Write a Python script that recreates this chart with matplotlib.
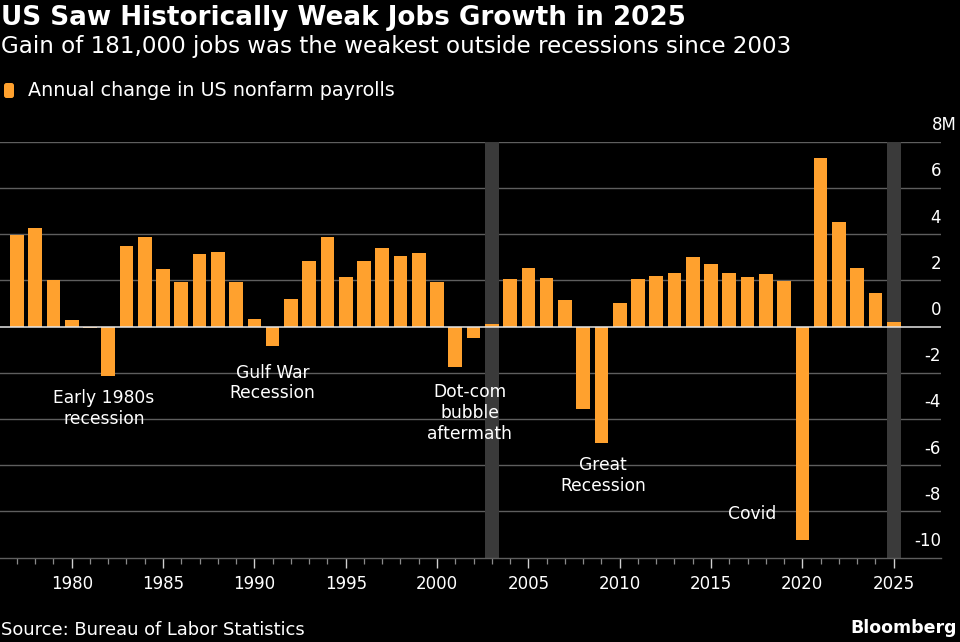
import matplotlib
matplotlib.use("Agg")
import matplotlib.pyplot as plt
from matplotlib.patches import FancyBboxPatch
import numpy as np

plt.rcParams['font.family'] = ['DejaVu Sans']

years = list(range(1977, 2026))
changes = [3.97, 4.27, 2.01, 0.28, -0.05, -2.13, 3.48, 3.88, 2.51, 1.91,
           3.16, 3.23, 1.93, 0.33, -0.84, 1.18, 2.83, 3.87, 2.15, 2.83,
           3.41, 3.06, 3.19, 1.93, -1.73, -0.50, 0.13, 2.05, 2.54, 2.11,
           1.16, -3.56, -5.05, 1.03, 2.06, 2.19, 2.31, 3.00, 2.71, 2.34,
           2.14, 2.29, 1.99, -9.25, 7.29, 4.53, 2.53, 1.46, 0.18]
highlight_years = [2003, 2025]
ytick_values = [8, 6, 4, 2, 0, -2, -4, -6, -8, -10]
ytick_labels = ["8M", "6", "4", "2", "0", "-2", "-4", "-6", "-8", "-10"]
xtick_major = [1980, 1985, 1990, 1995, 2000, 2005, 2010, 2015, 2020, 2025]
annotations = [
    ("Early 1980s\nrecession", 1981.77, -3.56),
    ("Gulf War\nRecession", 1991.0, -2.44),
    ("Dot-com\nbubble\naftermath", 2001.8, -3.74),
    ("Great\nRecession", 2009.08, -6.45),
    ("Covid", 2017.23, -8.11),
]

title = "US Saw Historically Weak Jobs Growth in 2025"
subtitle = "Gain of 181,000 jobs was the weakest outside recessions since 2003"
legend_label = "Annual change in US nonfarm payrolls"
source = "Source: Bureau of Labor Statistics"

BG = "black"
ORANGE = "#ffa12e"
GRID = "#5e5e5e"
BAND = "#3a3a3a"

W, H = 960, 642
fig = plt.figure(figsize=(W / 100, H / 100), dpi=100, facecolor=BG)
ax = fig.add_axes([0 / W, (H - 557.7) / H, 941 / W, (557.7 - 141.7) / H])
ax.set_facecolor(BG)

ax.set_xlim(1976.075, 2027.59)
ax.set_ylim(-10, 8)

for v in ytick_values:
    if v in (0, -10):
        continue
    ax.axhline(v, color=GRID, lw=1.0, zorder=1)

for hy in highlight_years:
    ax.bar(hy, 18, bottom=-10, width=0.75, color=BAND, zorder=2)

ax.bar(years, changes, width=0.75, color=ORANGE, zorder=3)
ax.axhline(0, color="#e6e6e6", lw=1.1, zorder=4)

for name, sp in ax.spines.items():
    sp.set_visible(name == 'bottom')
ax.spines['bottom'].set_color(GRID)
ax.spines['bottom'].set_linewidth(1.0)
ax.spines['bottom'].set_zorder(5)

ax.set_yticks([])
ax.set_xticks(xtick_major)
ax.set_xticks(years, minor=True)
ax.tick_params(axis='x', which='major', length=7.5, width=1.0, color="#d0d0d0",
               labelcolor="white", labelsize=12, pad=5)
ax.tick_params(axis='x', which='minor', length=4, width=0.9, color="#8a8a8a")

for v, lab in zip(ytick_values, ytick_labels):
    if lab.endswith("M"):
        ax.text(957 / 941, v + 0.72, lab, transform=ax.get_yaxis_transform(),
                ha='right', va='center', color='white', fontsize=12)
    else:
        ax.text(1.0, v + 0.72, lab, transform=ax.get_yaxis_transform(),
                ha='right', va='center', color='white', fontsize=12)

for txt, x, y in annotations:
    ax.text(x, y, txt, ha='center', va='center', color='white', fontsize=12.3,
            linespacing=1.2, zorder=5)

fig.text(1 / W, 1 - 18 / H, title, ha='left', va='center', color='white',
         fontsize=18.9, fontweight='bold')
fig.text(1 / W, 1 - 47 / H, subtitle, ha='left', va='center', color='white',
         fontsize=16.6)
fig.text(28 / W, 1 - 90 / H, legend_label, ha='left', va='center', color='white',
         fontsize=13.8)
marker = FancyBboxPatch((4 / 100, (H - 98) / 100), 10 / 100, 15 / 100,
                        boxstyle="round,pad=0,rounding_size=0.025",
                        transform=fig.dpi_scale_trans, facecolor=ORANGE,
                        edgecolor='none')
fig.patches.append(marker)
fig.text(1 / W, 1 - 630 / H, source, ha='left', va='center', color='white',
         fontsize=12.9)
fig.text(957 / W, 1 - 628 / H, "Bloomberg", ha='right', va='center', color='white',
         fontsize=12.5, fontweight='bold')

fig.savefig("out.png", dpi=100, facecolor=BG)
